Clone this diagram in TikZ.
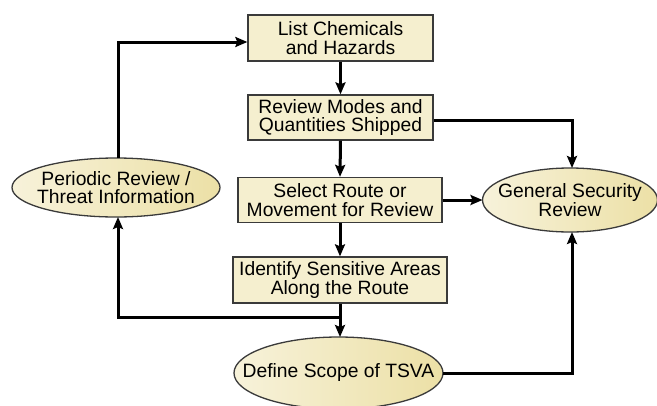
\documentclass[tikz,border=0pt]{standalone}
\usepackage{fontspec}
\setmainfont{Liberation Sans}
\usetikzlibrary{shapes.geometric,arrows.meta}
\definecolor{boxfill}{HTML}{F5EFCF}
\definecolor{edgecol}{HTML}{3A3A3A}
\definecolor{ellL}{HTML}{F7F2DA}
\definecolor{ellM}{HTML}{F3E8A2}
\definecolor{ellR}{HTML}{ECE0A6}
\tikzset{
  txt/.style={align=center, inner sep=0pt, font=\fontsize{19.3}{18.3}\selectfont},
  stepbox/.style={txt, draw=edgecol, line width=1.3pt, fill=boxfill},
  oval/.style={ellipse, draw=edgecol, line width=1.3pt, left color=ellL, middle color=ellM, right color=ellR,
    inner sep=0pt, outer sep=0pt},
  conn/.style={line width=3pt, -{Stealth[length=12pt,width=10pt,inset=2pt]}}
}
\begin{document}
\begin{tikzpicture}[x=1pt,y=-1pt]
\useasboundingbox (0,0) rectangle (657,405);
\node[stepbox, minimum width=185pt, minimum height=46pt] (b1) at (340.5,38) {List Chemicals\\and Hazards};
\node[stepbox, minimum width=185pt, minimum height=45pt] (b2) at (340.5,117.5) {Review Modes and\\Quantities Shipped};
\node[stepbox, minimum width=204pt, minimum height=45pt] (b3) at (340,200) {Select Route or\\Movement for Review};
\node[stepbox, minimum width=214pt, minimum height=46pt] (b4) at (340,280) {Identify Sensitive Areas\\Along the Route};
\node[oval, minimum width=209pt, minimum height=72pt] (e1) at (338.5,373) {};
\node[txt] (t1) at (e1) {Define Scope of TSVA};
\node[oval, minimum width=208pt, minimum height=59pt] (e2) at (116,187.5) {};
\node[txt] (t2) at (e2) {Periodic Review /\\Threat Information};
\node[oval, minimum width=175pt, minimum height=64pt] (e3) at (570,200) {};
\node[txt] (t3) at (e3) {General Security\\Review};
\coordinate (c1) at (118,42);
\coordinate (c2) at (572,120);
\coordinate (c3) at (340,317);
\coordinate (c4) at (118,317);
\coordinate (c5) at (572,373);
\draw[conn] (e2.north -| c1) -- (c1) -- (c1 -| b1.west);
\draw[conn] (b1.south) -- (b2.north);
\draw[conn] (b2.east |- c2) -- (c2) -- (c2 |- e3.north);
\draw[conn] (b2.south) -- (b3.north);
\draw[conn] (b3.east) -- (e3.west);
\draw[conn] (b3.south) -- (b4.north);
\draw[conn] (b4.south) -- (b4.south |- e1.north);
\draw[conn] (c3) -- (c4) -- (c4 |- e2.south);
\draw[conn] (e1.east) -- (c5) -- (c5 |- e3.south);
\end{tikzpicture}
\end{document}
